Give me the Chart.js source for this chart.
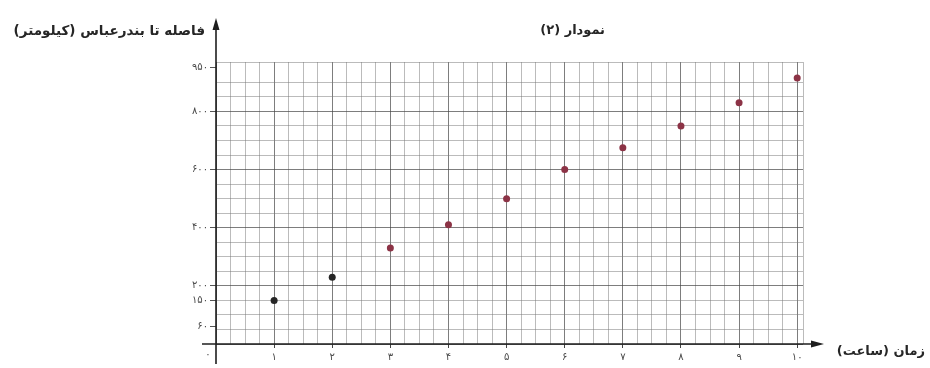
<!DOCTYPE html>
<html lang="fa">
<head>
<meta charset="utf-8">
<title>نمودار (۲)</title>
<script src="https://cdn.jsdelivr.net/npm/chart.js@4.4.1/dist/chart.umd.min.js"></script>
<style>
  body { margin: 0; background: #fff; }
  #wrap { width: 930px; height: 368px; position: relative; }
</style>
</head>
<body>
<div id="wrap"><canvas id="distanceChart"></canvas></div>
<script>
// داده‌های نمودار
const hours = [1, 2, 3, 4, 5, 6, 7, 8, 9, 10];
const distances = [150, 230, 330, 410, 500, 600, 675, 750, 830, 915];
const yTickValues = [60, 150, 200, 400, 600, 800, 950];
const xTickValues = [1, 2, 3, 4, 5, 6, 7, 8, 9, 10];

const chartTitle = "نمودار (۲)";
const yAxisTitle = "فاصله تا بندرعباس (کیلومتر)";
const xAxisTitle = "زمان (ساعت)";
const originLabel = "۰";

const FONT = "'DejaVu Sans', sans-serif";
const X_MAX = 10.1;
const Y_MAX = 970;

// تبدیل اعداد به ارقام فارسی
function toFa(n) {
  return String(n).replace(/\d/g, (d) => "۰۱۲۳۴۵۶۷۸۹"[d]);
}

// محورها، فلش‌ها و عنوان‌ها
const axesPlugin = {
  id: "axesPlugin",
  afterDraw(chart) {
    const { ctx } = chart;
    const x0 = chart.scales.x.getPixelForValue(0);
    const y0 = chart.scales.y.getPixelForValue(0);
    ctx.save();
    ctx.strokeStyle = "#1e1e1e";
    ctx.fillStyle = "#1e1e1e";
    ctx.lineWidth = 1.6;

    // محور عمودی
    ctx.beginPath();
    ctx.moveTo(x0, y0 + 20);
    ctx.lineTo(x0, 26);
    ctx.stroke();
    ctx.beginPath();
    ctx.moveTo(x0, 18);
    ctx.lineTo(x0 - 3.5, 30);
    ctx.lineTo(x0 + 3.5, 30);
    ctx.closePath();
    ctx.fill();

    // محور افقی
    ctx.beginPath();
    ctx.moveTo(x0 - 14, y0);
    ctx.lineTo(814, y0);
    ctx.stroke();
    ctx.beginPath();
    ctx.moveTo(824, y0);
    ctx.lineTo(811, y0 - 3.5);
    ctx.lineTo(811, y0 + 3.5);
    ctx.closePath();
    ctx.fill();

    // مبدأ
    ctx.fillStyle = "#4a4a4a";
    ctx.font = "10px " + FONT;
    ctx.textAlign = "center";
    ctx.textBaseline = "middle";
    ctx.fillText(originLabel, x0 - 8, y0 + 10);

    // عنوان‌ها
    ctx.direction = "rtl";
    ctx.textAlign = "right";
    ctx.fillStyle = "#262626";
    ctx.font = "bold 13.5px " + FONT;
    ctx.fillText(yAxisTitle, 205, 31);
    ctx.font = "bold 13px " + FONT;
    ctx.fillText(chartTitle, 605, 31);
    ctx.fillText(xAxisTitle, 925, y0 + 8);
    ctx.restore();
  },
};

const ctx = document.getElementById("distanceChart").getContext("2d");
new Chart(ctx, {
  type: "scatter",
  data: {
    datasets: [
      {
        label: yAxisTitle,
        data: hours.map((h, i) => ({ x: h, y: distances[i] })),
        pointRadius: 3.5,
        pointHoverRadius: 3.5,
        borderWidth: 0,
        backgroundColor: (c) => (c.dataIndex < 2 ? "#262626" : "#8c3346"),
      },
    ],
  },
  options: {
    responsive: true,
    maintainAspectRatio: false,
    animation: false,
    layout: { padding: { left: 170, right: 127, top: 62, bottom: 0 } },
    plugins: {
      legend: { display: false },
      tooltip: { enabled: false },
    },
    scales: {
      x: {
        type: "linear",
        min: 0,
        max: X_MAX,
        border: { display: false },
        afterBuildTicks: (scale) => {
          const t = [];
          for (let i = 0; i <= 40; i++) t.push({ value: i / 4 });
          t.push({ value: X_MAX });
          scale.ticks = t;
        },
        ticks: {
          autoSkip: false,
          maxRotation: 0,
          padding: 3,
          color: "#4a4a4a",
          font: { family: FONT, size: 10 },
          callback: (v) => (xTickValues.includes(v) ? toFa(v) : ""),
        },
        grid: {
          color: (c) =>
            Number.isInteger(c.tick.value) ? "rgba(70,70,70,0.7)" : "rgba(120,120,120,0.5)",
          tickColor: (c) =>
            xTickValues.includes(c.tick.value) ? "#444" : "rgba(0,0,0,0)",
          tickLength: 4,
        },
        afterFit: (scale) => {
          scale.height = 24;
        },
      },
      y: {
        type: "linear",
        position: "left",
        min: 0,
        max: Y_MAX,
        border: { display: false },
        ticks: { display: false, stepSize: 50 },
        grid: {
          color: (c) =>
            c.tick.value % 200 === 0 ? "rgba(70,70,70,0.7)" : "rgba(120,120,120,0.5)",
          drawTicks: false,
        },
        afterFit: (scale) => {
          scale.width = 0;
        },
      },
      yLabels: {
        type: "linear",
        position: "left",
        min: 0,
        max: Y_MAX,
        border: { display: false },
        afterBuildTicks: (scale) => {
          scale.ticks = yTickValues.map((v) => ({ value: v }));
        },
        ticks: {
          padding: 2,
          color: "#4a4a4a",
          font: { family: FONT, size: 10 },
          callback: (v) => toFa(v),
        },
        grid: {
          drawOnChartArea: false,
          tickLength: 6,
          tickColor: "#555",
        },
        afterFit: (scale) => {
          scale.width = 46;
        },
      },
    },
  },
  plugins: [axesPlugin],
});
</script>
</body>
</html>
